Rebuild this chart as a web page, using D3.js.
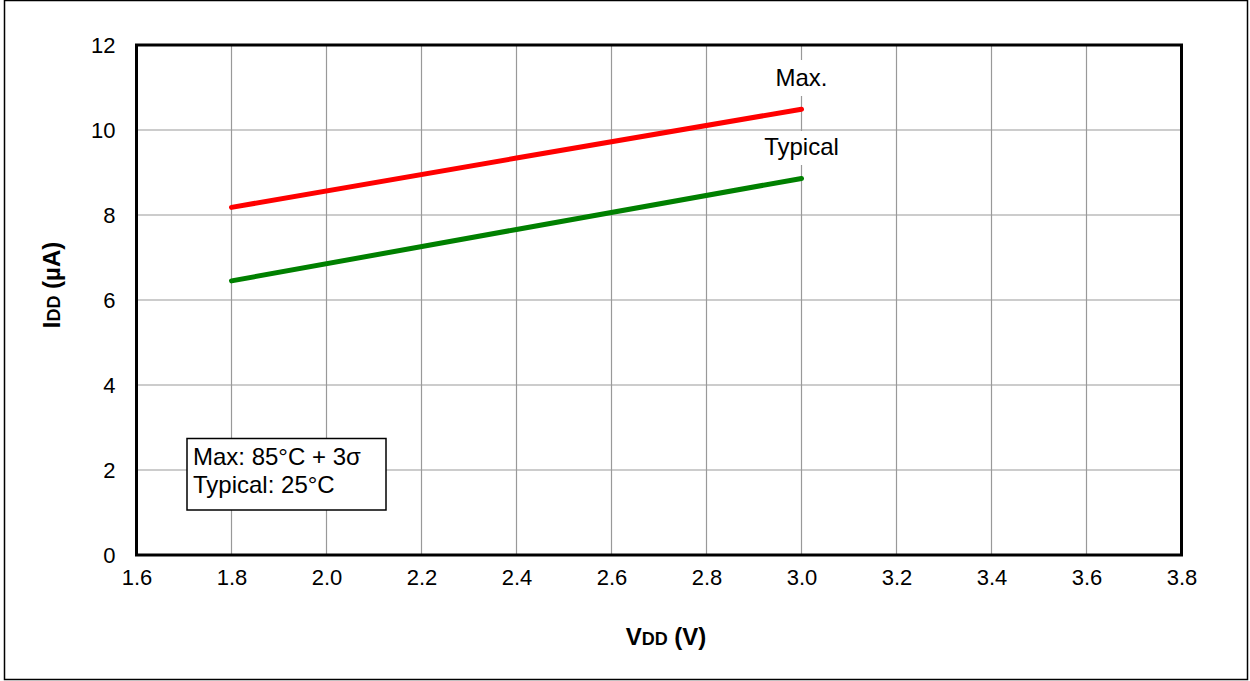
<!DOCTYPE html>
<html>
<head>
<meta charset="utf-8">
<script src="https://cdn.jsdelivr.net/npm/d3@7"></script>
<style>
  body { margin: 0; background: #fff; }
  svg text { font-family: "Liberation Sans", Arial, sans-serif; fill: #000; }
</style>
</head>
<body>
<div id="chart"></div>
<script>
var width = 1250,
  height = 681;

// data
var vdd = [1.8, 2.4, 3.0];
var maxIdd = [8.18, 9.34, 10.49];
var typIdd = [6.45, 7.66, 8.86];
var xTicks = [1.6, 1.8, 2.0, 2.2, 2.4, 2.6, 2.8, 3.0, 3.2, 3.4, 3.6, 3.8];
var yTicks = [0, 2, 4, 6, 8, 10, 12];
var legendLines = ["Max: 85°C + 3σ", "Typical: 25°C"];

var plot = { left: 136.5, right: 1181.5, top: 45, bottom: 555 };

var x = d3.scaleLinear().domain([1.6, 3.8]).range([plot.left, plot.right]);
var y = d3.scaleLinear().domain([0, 12]).range([plot.bottom, plot.top]);

var svg = d3.select("#chart").append("svg")
  .attr("width", width)
  .attr("height", height);

// outer frame
svg.append("rect")
  .attr("x", 4.5).attr("y", 0.5)
  .attr("width", 1243).attr("height", 679)
  .attr("fill", "#fff")
  .attr("stroke", "#000")
  .attr("stroke-width", 1.5);

// grid
var grid = svg.append("g").attr("stroke", "#999").attr("stroke-width", 1.2);
grid.selectAll(".vx")
  .data(xTicks.slice(1, -1))
  .enter().append("line")
    .attr("x1", d => x(d)).attr("x2", d => x(d))
    .attr("y1", plot.top).attr("y2", plot.bottom);
grid.selectAll(".hy")
  .data(yTicks.slice(1, -1))
  .enter().append("line")
    .attr("x1", plot.left).attr("x2", plot.right)
    .attr("y1", d => y(d)).attr("y2", d => y(d));

// label boxes (white, they hide grid lines)
svg.append("rect")
  .attr("x", 757).attr("y", 131).attr("width", 90).attr("height", 34)
  .attr("fill", "#fff");
svg.append("rect")
  .attr("x", 766).attr("y", 60).attr("width", 70).attr("height", 36)
  .attr("fill", "#fff");

// frame of plot
svg.append("rect")
  .attr("x", plot.left).attr("y", plot.top)
  .attr("width", plot.right - plot.left).attr("height", plot.bottom - plot.top)
  .attr("fill", "none")
  .attr("stroke", "#000")
  .attr("stroke-width", 3);

// axes labels via d3 axes, with lines hidden
var xAxis = svg.append("g")
  .attr("transform", "translate(0," + plot.bottom + ")")
  .call(d3.axisBottom(x).tickValues(xTicks).tickFormat(d3.format(".1f")).tickSize(0).tickPadding(14));
var yAxis = svg.append("g")
  .attr("transform", "translate(" + plot.left + ",0)")
  .call(d3.axisLeft(y).tickValues(yTicks).tickFormat(d3.format("d")).tickSize(0).tickPadding(21));
[xAxis, yAxis].forEach(function (a) {
  a.select(".domain").remove();
  a.selectAll("text")
    .attr("font-size", 22)
    .attr("font-family", "Liberation Sans, Arial, sans-serif")
    .attr("fill", "#000");
});
xAxis.selectAll("text").attr("dy", "0.71em");
yAxis.selectAll("text").attr("dy", "0.36em");

// series
var line = d3.line()
  .x(d => x(d[0]))
  .y(d => y(d[1]));

svg.append("path")
  .datum(d3.zip(vdd, maxIdd))
  .attr("d", line)
  .attr("fill", "none")
  .attr("stroke", "#ff0000")
  .attr("stroke-width", 5)
  .attr("stroke-linecap", "round");

svg.append("path")
  .datum(d3.zip(vdd, typIdd))
  .attr("d", line)
  .attr("fill", "none")
  .attr("stroke", "#008000")
  .attr("stroke-width", 5)
  .attr("stroke-linecap", "round");

// series labels
svg.append("text")
  .attr("x", x(3.0)).attr("y", 86)
  .attr("text-anchor", "middle")
  .attr("font-size", 24)
  .text("Max.");
svg.append("text")
  .attr("x", x(3.0)).attr("y", 155)
  .attr("text-anchor", "middle")
  .attr("font-size", 24)
  .text("Typical");

// legend box
svg.append("rect")
  .attr("x", 187).attr("y", 438.5)
  .attr("width", 199).attr("height", 71.5)
  .attr("fill", "#fff")
  .attr("stroke", "#000")
  .attr("stroke-width", 1.5);
svg.selectAll(".leg")
  .data(legendLines)
  .enter().append("text")
    .attr("x", 193)
    .attr("y", (d, i) => 465 + i * 28)
    .attr("font-size", 24)
    .text(d => d);

// axis titles
var xt = svg.append("text")
  .attr("x", 666).attr("y", 645)
  .attr("text-anchor", "middle")
  .attr("font-weight", "bold")
  .attr("font-size", 24);
xt.append("tspan").text("V");
xt.append("tspan").attr("font-size", 18).text("DD");
xt.append("tspan").text(" (V)");

var yt = svg.append("text")
  .attr("transform", "translate(60,285) rotate(-90)")
  .attr("text-anchor", "middle")
  .attr("font-weight", "bold")
  .attr("font-size", 24);
yt.append("tspan").text("I");
yt.append("tspan").attr("font-size", 18).text("DD");
yt.append("tspan").text(" (µA)");
</script>
</body>
</html>
